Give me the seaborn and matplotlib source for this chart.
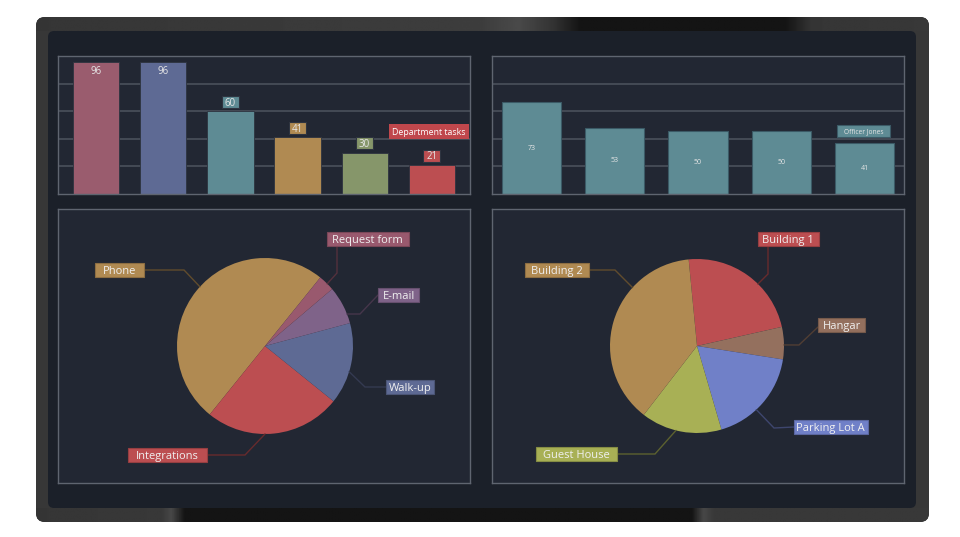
import numpy as np
import pandas as pd
import matplotlib
matplotlib.use("Agg")
import matplotlib.pyplot as plt
import seaborn as sns
from matplotlib.patches import FancyBboxPatch, Rectangle
from matplotlib.transforms import IdentityTransform, offset_copy

# ---------------- data ----------------
bar1_categories = ["Request form", "Walk-up", "Queue", "Phone", "Other", "Department tasks"]
bar1_values = [96, 96, 60, 41, 30, 21]
bar1_colors = ["#9A5C6E", "#5E6A94", "#5E8B94", "#B08A52", "#86966A", "#BC4E51"]

bar2_categories = ["Officer 1", "Officer 2", "Officer 3", "Officer 4", "Officer Jones"]
bar2_values = [73, 53, 50, 50, 41]
bar2_color = "#5E8B94"

pie1_labels = ["Phone", "Integrations", "Walk-up", "E-mail", "Request form"]
pie1_values = [50, 25, 15, 7, 3]
pie1_colors = ["#B08A52", "#BC4E51", "#5E6A94", "#7F6389", "#99596E"]

pie2_labels = ["Building 1", "Hangar", "Parking Lot A", "Guest House", "Building 2"]
pie2_values = [23, 6, 18, 15, 38]
pie2_colors = ["#BC4E51", "#94705E", "#7080C8", "#A8B055", "#B08A52"]

# ---------------- style ----------------
sns.set_theme(style="dark")
plt.rcParams["font.family"] = ["Open Sans", "DejaVu Sans"]

W, H = 960, 537
DPI = 100
fig = plt.figure(figsize=(W / DPI, H / DPI), dpi=DPI)
fig.patch.set_facecolor("white")
renderer = fig.canvas.get_renderer()

PANEL_BG = "#222733"
PANEL_EDGE = "#5F6570"
GRID = "#4A505B"
TXT = "#F0F0F0"
CAP = 0.714  # cap height of Open Sans, fraction of em


def add_axes_px(x0, y0, x1, y1, **kw):
    return fig.add_axes([x0 / W, 1 - y1 / H, (x1 - x0) / W, (y1 - y0) / H], **kw)


def boxed_text(ax, x, y, s, fc, ec, padx, h, fontsize, ha="center", **kw):
    """Text whose capitals are centred on (x, y), inside a box h px high."""
    cap_px = CAP * fontsize * DPI / 72
    tr = offset_copy(ax.transData, fig=fig, y=-cap_px / 2, units="dots")
    t = ax.text(x, y, s, transform=tr, ha=ha, va="baseline", fontsize=fontsize,
                zorder=6, **kw)
    bb = t.get_window_extent(renderer)
    _, ay = ax.transData.transform((x, y))
    r = Rectangle((bb.x0 - padx, ay - h / 2), bb.width + 2 * padx, h,
                  transform=IdentityTransform(), fc=fc, ec=ec, lw=0.8, zorder=5, clip_on=False)
    ax.add_artist(r)
    return t


# background frame (device bezel)
bg = add_axes_px(0, 0, W, H)
bg.set_xlim(0, W)
bg.set_ylim(H, 0)
bg.axis("off")
outer = FancyBboxPatch((36, 17), 893, 505, boxstyle="round,pad=0,rounding_size=9",
                       fc="#373737", ec="none")
bg.add_patch(outer)
xs = np.linspace(0, 1, 512)
top_band = np.interp(xs, [0, 0.50, 0.54, 0.58, 0.61, 0.84, 0.87, 1],
                     [0.21, 0.24, 0.29, 0.20, 0.08, 0.08, 0.21, 0.22])
bot_band = np.interp(xs, [0, 0.14, 0.151, 0.166, 0.735, 0.748, 0.76, 1],
                     [0.21, 0.22, 0.28, 0.08, 0.08, 0.28, 0.22, 0.22])
im1 = bg.imshow(np.vstack([top_band, top_band]), cmap="gray", vmin=0, vmax=1, aspect="auto",
                extent=(36, 929, 31, 17), zorder=1)
im1.set_clip_path(outer)
im2 = bg.imshow(np.vstack([bot_band, bot_band]), cmap="gray", vmin=0, vmax=1, aspect="auto",
                extent=(36, 929, 522, 508), zorder=1)
im2.set_clip_path(outer)
inner = FancyBboxPatch((48, 31), 868, 477, boxstyle="round,pad=0,rounding_size=6",
                       fc="#1B2029", ec="none", zorder=2)
bg.add_patch(inner)


def style_panel(ax):
    ax.set_facecolor(PANEL_BG)
    ax.tick_params(left=False, bottom=False, labelleft=False, labelbottom=False)
    ax.set_xlabel("")
    ax.set_ylabel("")
    for s in ax.spines.values():
        s.set_color(PANEL_EDGE)
        s.set_linewidth(1)


# ---------------- bar chart 1 ----------------
ax1 = add_axes_px(58, 56, 470, 194)
df1 = pd.DataFrame({"cat": bar1_categories, "val": bar1_values})
sns.barplot(data=df1, x="cat", y="val", hue="cat", palette=bar1_colors, legend=False,
            width=0.69, saturation=1, edgecolor="#2E3440", linewidth=0.6, ax=ax1)
ax1.set_xlim(-0.57, len(bar1_values) - 0.43)
ax1.set_ylim(0, 100)
ax1.set_yticks([20, 40, 60, 80])
ax1.grid(axis="y", color=GRID, lw=1.2)
style_panel(ax1)
for i, v in enumerate(bar1_values):
    if v > 90:
        ax1.text(i, v - 7, str(v), ha="center", va="center", color="#E6E6E6", fontsize=7)
    else:
        boxed_text(ax1, i, v + 6.6, str(v), bar1_colors[i], "#2E3440", 3, 12, 7,
                   color="#E6E6E6")
boxed_text(ax1, len(bar1_values) - 0.43 - 0.06, 45.3, bar1_categories[-1], "#C0474C", "none",
           3.5, 15, 6.3, ha="right", color="white")

# ---------------- bar chart 2 ----------------
ax2 = add_axes_px(492, 56, 904, 194)
df2 = pd.DataFrame({"cat": bar2_categories, "val": bar2_values})
sns.barplot(data=df2, x="cat", y="val", color=bar2_color, width=0.71, saturation=1,
            edgecolor="#3B5A66", linewidth=0.8, ax=ax2)
ax2.set_xlim(-0.475, len(bar2_values) - 0.525)
ax2.set_ylim(0, 110)
ax2.set_yticks([22, 44, 66, 88])
ax2.grid(axis="y", color=GRID, lw=1.2)
style_panel(ax2)
for i, v in enumerate(bar2_values):
    ax2.text(i, v / 2, str(v), ha="center", va="center", color="#E6E6E6", fontsize=5)
boxed_text(ax2, len(bar2_values) - 1.01, 50.5, bar2_categories[-1], bar2_color, "#3B5A66",
           7, 12, 4.8, color="#E6E6E6")


# ---------------- pies ----------------
def darker(c, f=0.55):
    r, g, b = matplotlib.colors.to_rgb(c)
    return (r * f, g * f, b * f)


def draw_pie(x0, labels, values, colors, start, counterclock, center, radius, layout):
    ax = add_axes_px(x0, 209, x0 + 412, 483)
    ax.pie(values, colors=colors, startangle=start, counterclock=counterclock,
           center=center, radius=radius, frame=True, wedgeprops=dict(linewidth=0))
    ax.set_xlim(0, 412)
    ax.set_ylim(0, 274)
    ax.set_aspect("auto")
    ax.set_xticks([])
    ax.set_yticks([])
    ax.grid(False)
    style_panel(ax)
    for lab, col, (ang, elbow, end, box, ha) in zip(labels, colors, layout):
        a = np.deg2rad(ang)
        p = (center[0] + radius * np.cos(a), center[1] + radius * np.sin(a))
        ax.plot([p[0], elbow[0], end[0]], [p[1], elbow[1], end[1]],
                color=darker(col), lw=1, solid_joinstyle="miter")
        boxed_text(ax, box[0], box[1], lab, col, darker(col, 0.8), box[2], 14.5, 8,
                   ha=ha, color=TXT)
    return ax


# layout: (anchor angle, elbow, line end, (text x, text y, horizontal pad), alignment)
# in panel pixel coordinates (y up)
pie1_layout = [
    (137.7, (126, 213), (86, 213), (78, 213, 7.5), "right"),      # Phone
    (-90.0, (187, 28), (149, 28), (141, 28, 8), "right"),         # Integrations
    (-17.0, (307, 96), (328, 96), (330.5, 96, 2.5), "left"),      # Walk-up
    (21.3, (302, 169), (320, 188), (324.5, 188, 4.5), "left"),    # E-mail
    (45.0, (279, 210), (279, 237), (274.5, 244, 5.5), "left"),    # Request form
]
pie2_layout = [
    (45.5, (276, 209), (276, 237), (270.5, 244, 4.5), "left"),    # Building 1
    (0.7, (307, 138), (326, 156), (330.5, 158, 4.5), "left"),     # Hangar
    (-47.0, (282, 55), (302, 56), (304.5, 56, 2.5), "left"),      # Parking Lot A
    (-104.0, (163, 29), (125, 29), (118, 29, 7), "right"),        # Guest House
    (137.8, (123, 213), (97, 213), (91, 213, 6), "right"),        # Building 2
]

draw_pie(58, pie1_labels, pie1_values, pie1_colors, 51.1, True, (207, 137), 88, pie1_layout)
draw_pie(492, pie2_labels, pie2_values, pie2_colors, 95.5, False, (205, 137), 87, pie2_layout)

fig.savefig("out.png", dpi=DPI, facecolor="white")
